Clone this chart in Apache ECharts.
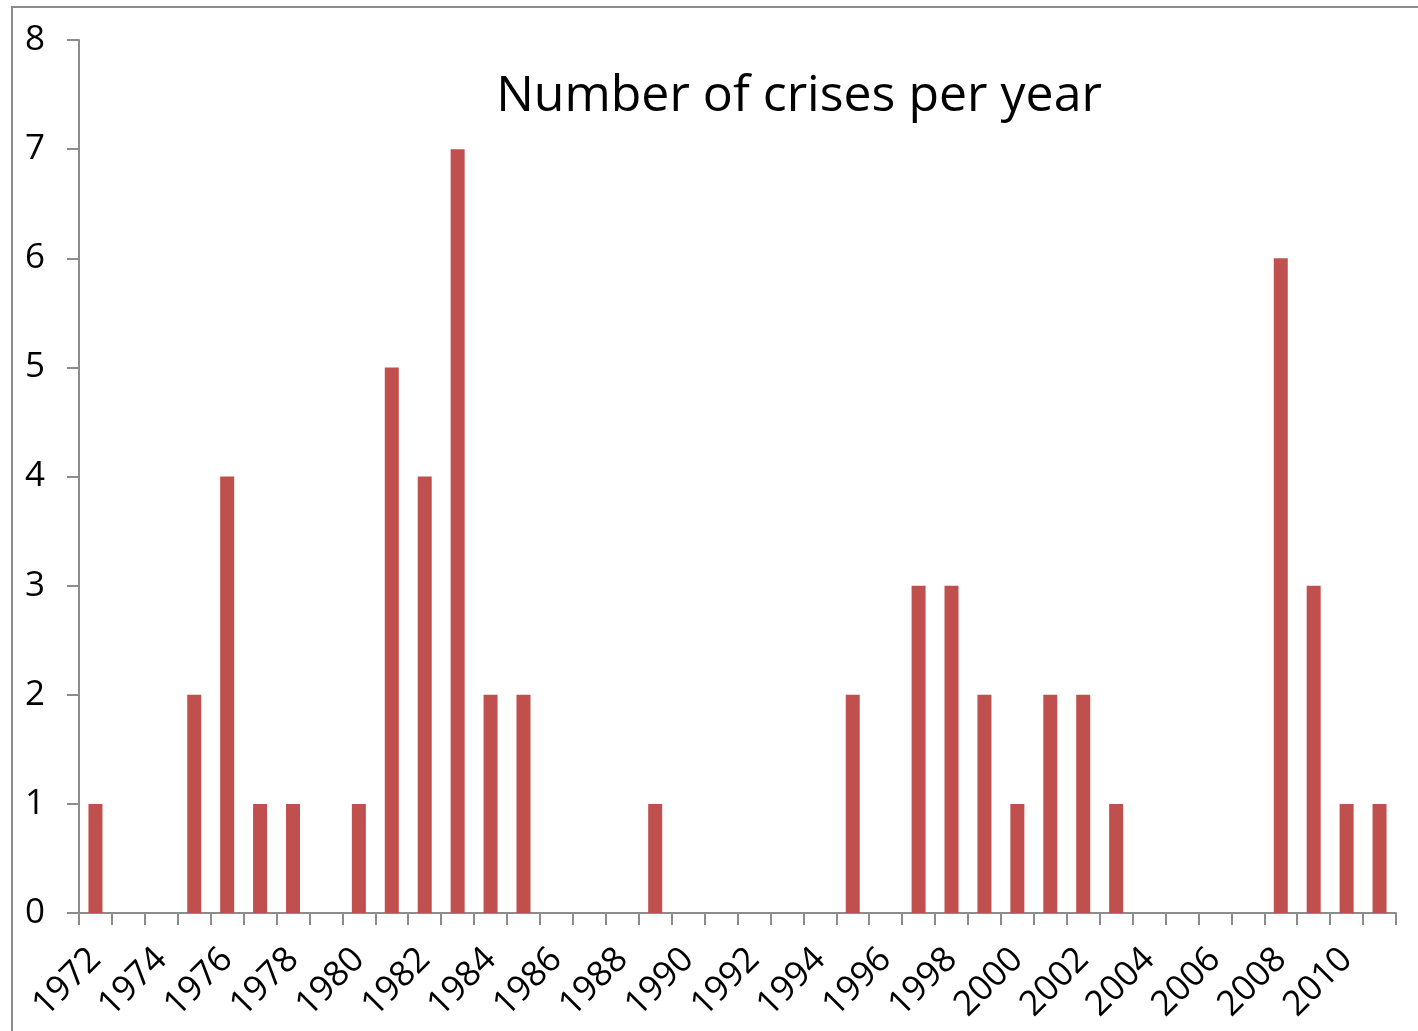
<!DOCTYPE html>
<html>
<head>
<meta charset="utf-8">
<script src="https://cdn.jsdelivr.net/npm/echarts@6/dist/echarts.min.js"></script>
<style>
html,body{margin:0;padding:0;background:#fff;}
#chart{width:1418px;height:1031px;}
</style>
</head>
<body>
<div id="chart"></div>
<script>
var years = [];
for (var y = 1972; y <= 2011; y++) years.push(String(y));
var crises = [1,0,0,2,4,1,1,0,1,5,4,7,2,2,0,0,0,1,0,0,0,0,0,2,0,3,3,2,1,2,2,1,0,0,0,0,6,3,1,1];
var yTicks = [0,1,2,3,4,5,6,7,8];
var titleText = 'Number of crises per year';

var chart = echarts.init(document.getElementById('chart'), null, {renderer:'canvas'});
var font = '"Open Sans", "Noto Sans", sans-serif';
chart.setOption({
  animation:false,
  backgroundColor:'#fff',
  title:{
    text:titleText,
    left:794, top:67, textAlign:'center',
    textStyle:{fontFamily:font, fontSize:50, fontWeight:'normal', color:'#000'}
  },
  graphic:[{
    type:'rect', shape:{x:12, y:7, width:1430, height:1050},
    style:{fill:'none', stroke:'#8c8c8c', lineWidth:2}, silent:true
  }],
  grid:{left:79, right:22, top:40, bottom:118, containLabel:false},
  xAxis:{
    type:'category', data:years, boundaryGap:true,
    axisLine:{lineStyle:{color:'#8c8c8c', width:2}},
    axisTick:{show:true, interval:0, length:12, lineStyle:{color:'#8c8c8c', width:2}},
    axisLabel:{interval:1, rotate:45, margin:41, fontFamily:font, fontSize:35, color:'#000'}
  },
  yAxis:{
    type:'value', min:0, max:8, interval:1,
    splitLine:{show:false},
    axisLine:{show:true, lineStyle:{color:'#8c8c8c', width:2}},
    axisTick:{show:true, length:12, lineStyle:{color:'#8c8c8c', width:2}},
    axisLabel:{margin:34, fontFamily:font, fontSize:35, color:'#000',
      formatter:function(v){return yTicks.indexOf(v)>=0 ? String(v) : '';}}
  },
  series:[{
    type:'bar', data:crises, barWidth:14,
    itemStyle:{color:'#C0504D'}
  }]
});
</script>
</body>
</html>
